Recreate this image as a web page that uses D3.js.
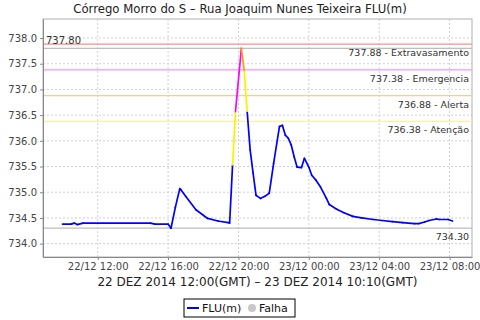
<!DOCTYPE html>
<html lang="pt">
<head>
<meta charset="UTF-8">
<title>FLU(m)</title>
<script src="https://d3js.org/d3.v7.min.js"></script>
<style>
  body { margin: 0; background: #fff; }
  text { font-family: "DejaVu Sans", sans-serif; fill: #333; }
  .grid line { stroke: #d0d0d0; stroke-dasharray: 2,2; }
  .axis path, .axis line { stroke: #888; }
  .axis text { font-size: 10px; fill: #444; }
</style>
</head>
<body>
<svg width="480" height="320"></svg>
<script>
// leituras (hora local, GMT-2)
var times = ["22/12 10:00","22/12 10:30","22/12 10:40","22/12 10:50","22/12 11:10","22/12 15:00","22/12 15:15","22/12 16:00","22/12 16:10","22/12 16:25",
  "22/12 16:40","22/12 16:45","22/12 17:00","22/12 17:35","22/12 18:15","22/12 18:50","22/12 19:25","22/12 19:30","22/12 19:40","22/12 19:50",
  "22/12 20:10","22/12 20:20","22/12 20:30","22/12 20:40","22/12 20:50","22/12 21:00","22/12 21:15","22/12 21:30","22/12 21:45","22/12 22:00",
  "22/12 22:20","22/12 22:30","22/12 22:40","22/12 22:50","22/12 23:00","22/12 23:10","22/12 23:20","22/12 23:35","22/12 23:45","23/12 00:00",
  "23/12 00:10","23/12 00:25","23/12 00:40","23/12 01:00","23/12 01:10","23/12 01:35","23/12 02:00","23/12 02:30","23/12 03:00","23/12 03:40",
  "23/12 04:10","23/12 04:45","23/12 05:20","23/12 06:00","23/12 06:15","23/12 06:35","23/12 06:50","23/12 07:15","23/12 07:25","23/12 07:55",
  "23/12 08:10"];
var levels = [734.38,734.38,734.40,734.37,734.40,734.40,734.38,734.38,734.30,734.71,
  735.07,735.04,734.92,734.66,734.49,734.44,734.41,734.40,735.53,736.57,
  737.80,737.35,736.55,735.82,735.37,734.94,734.88,734.92,734.98,735.56,
  736.28,736.30,736.11,736.05,735.92,735.69,735.49,735.48,735.66,735.49,
  735.33,735.23,735.10,734.88,734.76,734.67,734.60,734.53,734.50,734.47,
  734.45,734.43,734.41,734.39,734.39,734.42,734.45,734.48,734.47,734.47,
  734.44];

// cotas de alerta
var limitValues = [737.88, 737.38, 736.88, 736.38];
var limitNames = ["Extravasamento", "Emergencia", "Alerta", "Atenção"];
var limitLineColors = ["#ff8c8c", "#ff90ff", "#ffc896", "#fff0a0"];
var limitSegColors = ["#ff0000", "#ff00ff", "#ff9900", "#ffee00"];
var yTicks = [734.0, 734.5, 735.0, 735.5, 736.0, 736.5, 737.0, 737.5, 738.0];

var svg = d3.select("svg");
var margin = { left: 43, right: 8, top: 19, bottom: 63 };
var width = 480 - margin.left - margin.right,
    height = 320 - margin.top - margin.bottom;

var parse = d3.utcParse("%d/%m/%Y %H:%M");
var data = times.map(function (t, i) {
  return { t: parse(t.slice(0, 5) + "/2014" + t.slice(5)), v: levels[i] };
});

var ext = d3.extent(data, function (d) { return d.t; });
var pad = (ext[1] - ext[0]) * 0.05;
var x = d3.scaleUtc()
  .domain([new Date(+ext[0] - pad), new Date(+ext[1] + pad)])
  .range([0, width]);
var y = d3.scaleLinear().domain([733.74, 738.37]).range([height, 0]);

var g = svg.append("g").attr("transform", "translate(" + margin.left + "," + margin.top + ")");

var xTicks = x.ticks(d3.utcHour.every(4));

// grade
g.append("g").attr("class", "grid")
  .selectAll("line").data(yTicks).enter().append("line")
  .attr("x1", 0).attr("x2", width)
  .attr("y1", function (d) { return y(d); }).attr("y2", function (d) { return y(d); });
g.append("g").attr("class", "grid")
  .selectAll("line").data(xTicks).enter().append("line")
  .attr("y1", 0).attr("y2", height)
  .attr("x1", function (d) { return x(d); }).attr("x2", function (d) { return x(d); });

// moldura
g.append("rect").attr("width", width).attr("height", height)
  .attr("fill", "none").attr("stroke", "#b0b0b0");

// cotas
var limits = g.append("g");
limitValues.forEach(function (v, i) {
  limits.append("line")
    .attr("x1", 0).attr("x2", width).attr("y1", y(v)).attr("y2", y(v))
    .attr("stroke", limitLineColors[i]).attr("stroke-width", 1.2);
  limits.append("text")
    .attr("x", width - 3).attr("y", y(v) + 12)
    .attr("text-anchor", "end").style("font-size", "9.5px")
    .text(d3.format(".2f")(v) + " - " + limitNames[i]);
});

// max / min
var vmax = d3.max(levels), vmin = d3.min(levels);
[vmax, vmin].forEach(function (v) {
  limits.append("line")
    .attr("x1", 0).attr("x2", width).attr("y1", y(v)).attr("y2", y(v))
    .attr("stroke", "#bdbdbd").attr("stroke-width", 1.2);
});
limits.append("text").attr("x", 3).attr("y", y(vmax) - 4)
  .style("font-size", "10px").text(d3.format(".2f")(vmax));
limits.append("text").attr("x", width - 3).attr("y", y(vmin) + 12)
  .attr("text-anchor", "end").style("font-size", "9.5px").text(d3.format(".2f")(vmin));

// eixos
g.append("g").attr("class", "axis")
  .attr("transform", "translate(0," + height + ")")
  .call(d3.axisBottom(x).tickValues(xTicks).tickSize(3).tickSizeOuter(0)
    .tickFormat(d3.utcFormat("%d/%m %H:%M")));
g.append("g").attr("class", "axis")
  .call(d3.axisLeft(y).tickValues(yTicks).tickSize(3).tickSizeOuter(0)
    .tickFormat(d3.format(".1f")));
g.selectAll(".axis .domain").attr("stroke", "#888");

// serie colorida por nivel
function levelColor(v) {
  for (var i = 0; i < limitValues.length; i++) {
    if (v >= limitValues[i]) return limitSegColors[i];
  }
  return "#0000ff";
}
var line = d3.line().x(function (d) { return x(d.t); }).y(function (d) { return y(d.v); });
var segs = d3.pairs(data);
g.append("g").selectAll("path").data(segs).enter().append("path")
  .attr("d", function (p) { return line(p); })
  .attr("fill", "none")
  .attr("stroke", function (p) { return levelColor(p[1].v); })
  .attr("stroke-width", 1.7)
  .attr("stroke-linecap", "round");

// titulo
svg.append("text").attr("x", 240).attr("y", 13).attr("text-anchor", "middle")
  .style("font-size", "11.7px").style("fill", "#222")
  .text("Córrego Morro do S – Rua Joaquim Nunes Teixeira FLU(m)");

svg.append("text").attr("x", margin.left + width / 2).attr("y", 286).attr("text-anchor", "middle")
  .style("font-size", "12px").style("fill", "#222")
  .text("22 DEZ 2014 12:00(GMT) – 23 DEZ 2014 10:10(GMT)");

// legenda
var leg = svg.append("g").attr("transform", "translate(184,299)");
leg.append("rect").attr("width", 111).attr("height", 18)
  .attr("fill", "#fff").attr("stroke", "#000");
leg.append("line").attr("x1", 3).attr("x2", 15).attr("y1", 9).attr("y2", 9)
  .attr("stroke", "#0000ff").attr("stroke-width", 2);
leg.append("text").attr("x", 18).attr("y", 13).style("font-size", "11px").style("fill", "#111").text("FLU(m)");
leg.append("circle").attr("cx", 68).attr("cy", 9).attr("r", 4).attr("fill", "#c8c8c8");
leg.append("text").attr("x", 75).attr("y", 13).style("font-size", "11px").style("fill", "#111").text("Falha");
</script>
</body>
</html>
